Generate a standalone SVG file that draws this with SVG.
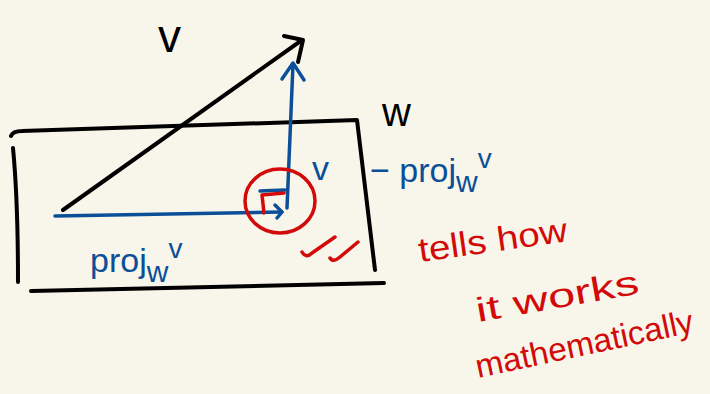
<svg xmlns="http://www.w3.org/2000/svg" width="710" height="394" viewBox="0 0 710 394">
<style>
.k{fill:none;stroke:#000;stroke-width:4;stroke-linecap:round;stroke-linejoin:round}
.b{fill:none;stroke:#0b4f99;stroke-width:3.5;stroke-linecap:round;stroke-linejoin:round}
.r{fill:none;stroke:#d20a0a;stroke-width:3.5;stroke-linecap:round;stroke-linejoin:round}
.tk{font-family:"Liberation Sans",sans-serif;fill:#000}
.tb{font-family:"Liberation Sans",sans-serif;fill:#0b4f99}
.tr{font-family:"Liberation Sans",sans-serif;fill:#d20a0a}
</style>
<rect width="710" height="394" fill="#f8f6ea"/>
<g id="plane-W">
<path class="k" d="M11,136 Q13,131 22,131 L357,120 L375,270"/>
<path class="k" d="M13,148 Q18,200 18,282"/>
<path class="k" d="M31,291 L384,283" stroke-width="5"/>
<text class="tk" x="382" y="126" font-size="40">w</text>
</g>
<g id="vector-v">
<path class="k" d="M63,210 L302,40"/>
<path class="k" d="M284,36 L303,40 L298,62"/>
<text class="tk" x="158" y="52" font-size="46">v</text>
</g>
<g id="connectors">
<path class="b" d="M55,216 L282,212"/>
<path class="b" d="M275,205 L282,212 L277,218"/>
<path class="b" d="M287,208 L293,64"/>
<path class="b" d="M282,79 L293,63 L304,80"/>
<path class="b" d="M260,191 L285,190"/>
</g>
<g id="right-angle">
<ellipse class="r" cx="280" cy="201" rx="35" ry="32"/>
<path class="r" d="M264,213 L262,195 L284,193" stroke-width="5"/>
</g>
<g id="labels">
<text class="tb" x="312" y="180" font-size="34">v</text>
<text class="tb" x="370" y="182" font-size="34">− proj<tspan font-size="30" dy="10">w</tspan><tspan font-size="28" dy="-24">v</tspan></text>
<text class="tb" x="90" y="272" font-size="34">proj<tspan font-size="30" dy="10">w</tspan><tspan font-size="28" dy="-24">v</tspan></text>
<path class="r" d="M302,252 Q306,259 312,253 L335,237 M330,258 Q333,263 340,257 L358,242"/>
<text class="tr" x="420" y="262" font-size="34" textLength="150" lengthAdjust="spacingAndGlyphs" transform="rotate(-8 420 262)">tells how</text>
<text class="tr" x="478" y="322" font-size="34" textLength="165" lengthAdjust="spacingAndGlyphs" transform="rotate(-10 478 322)">it works</text>
<text class="tr" x="478" y="378" font-size="33" textLength="222" lengthAdjust="spacingAndGlyphs" transform="rotate(-12 478 378)">mathematically</text>
</g>
</svg>
